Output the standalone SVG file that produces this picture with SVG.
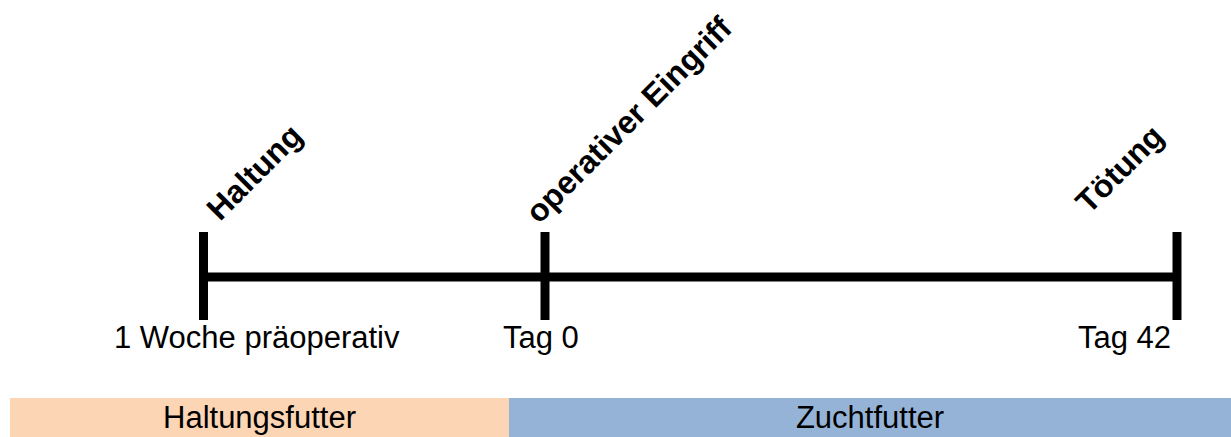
<svg xmlns="http://www.w3.org/2000/svg" width="1231" height="437" viewBox="0 0 1231 437">
<style>
.lbl{font-family:"Liberation Sans",Arial,sans-serif;font-size:31px;fill:#000}
.rot{font-family:"Liberation Sans",Arial,sans-serif;font-size:32px;font-weight:bold;fill:#000}
.line{stroke:#000;stroke-width:9;fill:none}
</style>
<rect width="1231" height="437" fill="#fff"/>
<g id="connectors">
<line class="line" x1="203" y1="277" x2="1177" y2="277"/>
</g>
<g id="node-haltung">
<line class="line" x1="203.5" y1="232" x2="203.5" y2="320"/>
<text class="rot" transform="translate(220,222) rotate(-45)">Haltung</text>
<text class="lbl" x="114" y="348">1 Woche präoperativ</text>
</g>
<g id="node-eingriff">
<line class="line" x1="545" y1="232" x2="545" y2="320"/>
<text class="rot" transform="translate(539,225) rotate(-45)">operativer Eingriff</text>
<text class="lbl" x="503" y="348">Tag 0</text>
</g>
<g id="node-toetung">
<line class="line" x1="1177" y1="232" x2="1177" y2="320"/>
<text class="rot" transform="translate(1089,215) rotate(-45)">Tötung</text>
<text class="lbl" x="1078" y="348">Tag 42</text>
</g>
<g id="node-haltungsfutter">
<rect x="10" y="398" width="499" height="39" fill="#FCD5B4"/>
<text class="lbl" x="259.5" y="428" text-anchor="middle">Haltungsfutter</text>
</g>
<g id="node-zuchtfutter">
<rect x="509" y="398" width="722" height="39" fill="#95B3D7"/>
<text class="lbl" x="870" y="428" text-anchor="middle">Zuchtfutter</text>
</g>
</svg>
